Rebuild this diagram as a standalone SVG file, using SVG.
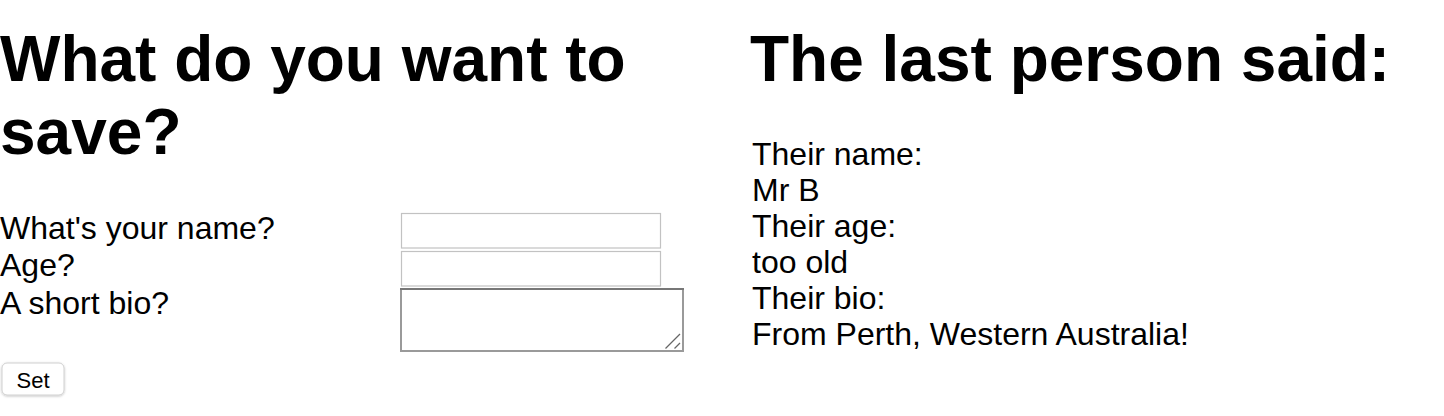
<svg xmlns="http://www.w3.org/2000/svg" width="1444" height="416" viewBox="0 0 1444 416">
<style>
.h{font-family:"Liberation Sans",Arial,Helvetica,sans-serif;font-weight:bold;font-size:64px;fill:#000}
.t{font-family:"Liberation Sans",Arial,Helvetica,sans-serif;font-size:32px;fill:#000}
.inp{fill:#fff;stroke:#c2c2c2;stroke-width:1.2}
</style>
<defs>
<filter id="sh" x="-20%" y="-20%" width="140%" height="160%">
<feDropShadow dx="0" dy="0.8" stdDeviation="0.8" flood-color="#000" flood-opacity="0.25"/>
</filter>
</defs>
<rect width="1444" height="416" fill="#fff"/>
<g id="left-heading">
<text class="h" x="0" y="81">What do you want to</text>
<text class="h" x="0" y="154">save?</text>
</g>
<g id="form">
<text class="t" x="0" y="239">What's your name?</text>
<text class="t" x="0" y="276">Age?</text>
<text class="t" x="0" y="314">A short bio?</text>
<rect class="inp" x="401.5" y="213.5" width="259" height="34.5"/>
<rect class="inp" x="401.5" y="251.5" width="259" height="34.5"/>
<g id="textarea">
<rect x="401" y="289" width="282" height="62" fill="#fff" stroke="#9a9a9a" stroke-width="2"/>
<line x1="400" y1="289" x2="684" y2="289" stroke="#777" stroke-width="2"/>
<line x1="665.5" y1="348.5" x2="680" y2="334" stroke="#666" stroke-width="1.3"/>
<line x1="674.5" y1="348.5" x2="680" y2="343" stroke="#666" stroke-width="1.3"/>
</g>
<g id="button">
<rect x="2" y="363" width="62" height="32" rx="5" fill="#fff" stroke="#d0d0d0" stroke-width="1" filter="url(#sh)"/>
<text x="33" y="388" text-anchor="middle" font-family="Liberation Sans,Arial,sans-serif" font-size="22" fill="#000">Set</text>
</g>
</g>
<g id="right-heading">
<text class="h" x="750" y="81">The last person said:</text>
</g>
<g id="result">
<text class="t" x="752" y="165">Their name:</text>
<text class="t" x="752" y="201">Mr B</text>
<text class="t" x="752" y="237">Their age:</text>
<text class="t" x="752" y="273">too old</text>
<text class="t" x="752" y="309">Their bio:</text>
<text class="t" x="752" y="345">From Perth, Western Australia!</text>
</g>
</svg>
